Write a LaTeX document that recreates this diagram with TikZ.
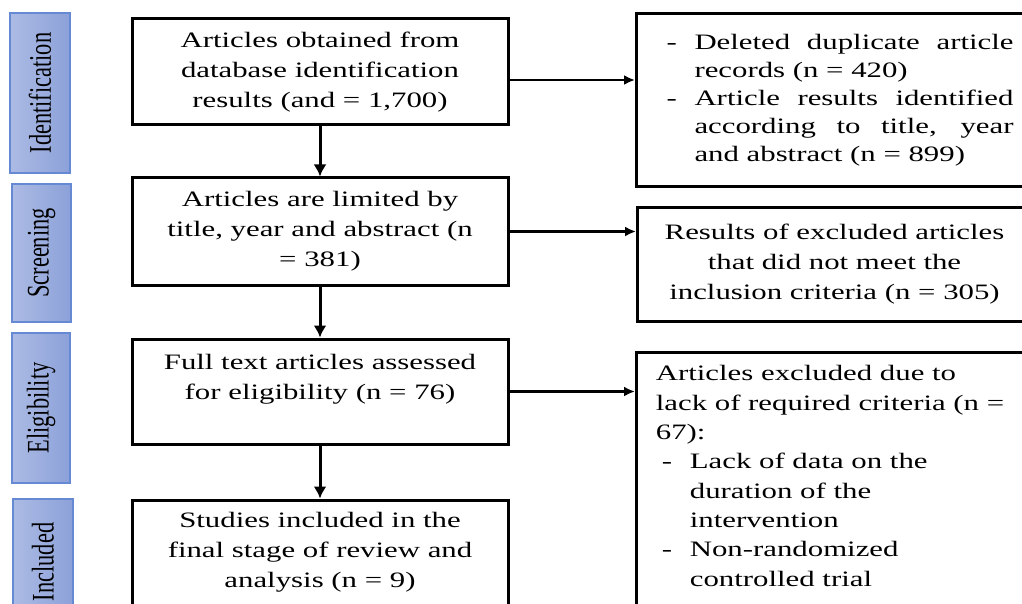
\documentclass[tikz,border=0pt]{standalone}
\usepackage{fontspec}
\setmainfont{Liberation Serif}[FakeStretch=1.4]
\newfontfamily\sidefont{Liberation Serif}[FakeStretch=0.714]
\usepackage{graphicx}
\usepackage{tikz}
\usetikzlibrary{arrows.meta}
\definecolor{sideleft}{HTML}{ACBBE4}
\definecolor{sideright}{HTML}{8CA1D9}
\definecolor{sideline}{HTML}{6689D3}
\tikzset{
	box/.style={draw=black, line width=3pt, inner sep=0pt, font=\fontsize{22pt}{30pt}\selectfont},
	side/.style={draw=sideline, line width=1.3pt, left color=sideleft, right color=sideright, inner sep=0pt, font=\sidefont\fontsize{31.4pt}{34pt}\selectfont},
	varr/.style={line width=3pt, -{Latex[length=12pt,width=13pt]}},
	harr/.style={line width=2.2pt, -{Latex[length=11pt,width=10pt]}}
}

\begin{document}
\begin{tikzpicture}[x=1pt, y=-1pt]
			%%%%% START %%%%%
			
			\useasboundingbox (0,0) rectangle (1022,604);
			\fill[white] (0,0) rectangle (1022,604);
			\clip (0,0) rectangle (1022,604);
			
			\node[side, minimum width=60pt, minimum height=160pt] (idlab) at (40,93) {\rotatebox{90}{Identification}};
			\node[side, minimum width=59pt, minimum height=138pt] (scrlab) at (41.5,253) {\rotatebox{90}{Screening}};
			\node[side, minimum width=58pt, minimum height=150pt] (eliglab) at (41,408) {\rotatebox{90}{Eligibility}};
			\node[side, minimum width=60pt, minimum height=126pt] (inclab) at (43,562) {\rotatebox{90}{Included}};
			
			\node[box, minimum width=376pt, minimum height=106pt, align=center] (obtained) at (320,72)
				{Articles obtained from\\database identification\\results (and = 1,700)};
			\node[box, minimum width=376pt, minimum height=107pt, align=center] (limited) at (320,231.5)
				{Articles are limited by\\title, year and abstract (n\\= 381)};
			\node[box, minimum width=376pt, minimum height=105pt, align=center] (fulltext) at (320,391.5)
				{Full text articles assessed\\for eligibility (n = 76)\\\mbox{}};
			\node[box, minimum width=376pt, minimum height=130pt, align=center] (studies) at (320,565)
				{Studies included in the\\final stage of review and\\analysis (n = 9)\\\mbox{}};
			
			\node[box, anchor=north west, minimum width=407pt, minimum height=173pt, align=left,
				font=\fontsize{22pt}{28pt}\selectfont] (removed) at (635,12)
				{\makebox[28pt][l]{-}\makebox[319pt][s]{Deleted duplicate article}\\
				\hspace*{28pt}records (n = 420)\\
				\makebox[28pt][l]{-}\makebox[319pt][s]{Article results identified}\\
				\hspace*{28pt}\makebox[319pt][s]{according to title, year}\\
				\hspace*{28pt}and abstract (n = 899)};
			\node[box, anchor=north west, minimum width=394pt, minimum height=114pt, align=center] (excluded) at (636,206)
				{Results of excluded articles\\that did not meet the\\inclusion criteria (n = 305)};
			\node[box, anchor=north west, minimum width=387pt, minimum height=276pt, align=left,
				font=\fontsize{22pt}{29.3pt}\selectfont] (lacking) at (635,351)
				{Articles excluded due to\\
				lack of required criteria (n =\\
				67):\\
				\hspace*{6pt}\makebox[28pt][l]{-}Lack of data on the\\
				\hspace*{34pt}duration of the\\
				\hspace*{34pt}intervention\\
				\hspace*{6pt}\makebox[28pt][l]{-}Non-randomized\\
				\hspace*{34pt}controlled trial\\
				\mbox{}};
			
			\draw[varr] (obtained.south) -- (limited.north);
			\draw[varr] (limited.south) -- (fulltext.north);
			\draw[varr] (fulltext.south) -- (studies.north);
			
			\draw[harr] ([yshift=-8pt]obtained.east) -- ([yshift=-8pt]obtained.east -| removed.west);
			\draw[harr] (limited.east) -- (limited.east -| excluded.west);
			\draw[harr] (fulltext.east) -- (fulltext.east -| lacking.west);
			
			%%%%% END %%%%%
\end{tikzpicture}
\end{document}
